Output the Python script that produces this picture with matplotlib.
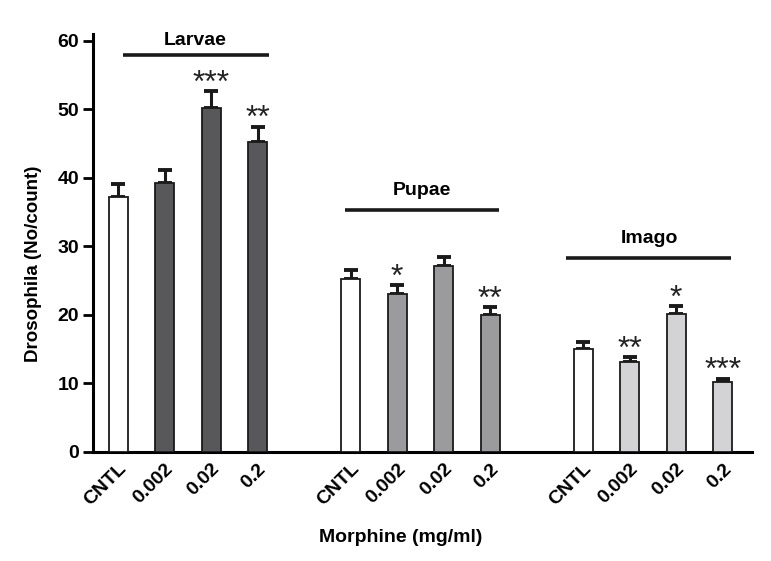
import matplotlib
matplotlib.use("Agg")
import matplotlib.pyplot as plt
import numpy as np

plt.rcParams['font.family'] = ['Liberation Sans', 'DejaVu Sans']

groups = ["Larvae", "Pupae", "Imago"]
doses = ["CNTL", "0.002", "0.02", "0.2"]
larvae = [37.2, 39.3, 50.2, 45.3]
larvae_err = [1.9, 1.9, 2.5, 2.2]
pupae = [25.2, 23.1, 27.1, 20.0]
pupae_err = [1.3, 1.2, 1.3, 1.2]
imago = [15.1, 13.1, 20.1, 10.2]
imago_err = [0.9, 0.8, 1.2, 0.5]
larvae_sig = ["", "", "***", "**"]
pupae_sig = ["", "*", "", "**"]
imago_sig = ["", "**", "*", "***"]

values = [larvae, pupae, imago]
errors = [larvae_err, pupae_err, imago_err]
sigs = [larvae_sig, pupae_sig, imago_sig]
group_colors = ["#58585a", "#9b9b9e", "#d3d3d5"]
group_line_y = [58.0, 35.3, 28.3]
group_line_x = [(0.1, 3.24), (4.87, 8.19), (9.63, 13.18)]
group_label_xy = [(1.66, 60.1), (6.53, 38.2), (11.42, 31.2)]

fig = plt.figure(figsize=(7.71, 5.61), dpi=100)
ax = fig.add_axes([93/771, 1-452/561, (752-93)/771, (452-34)/561])

width = 0.41
xticks = []
xlabels = []
for g, (vals, errs, sg) in enumerate(zip(values, errors, sigs)):
    xs = np.arange(4) + 5*g
    colors = ["white"] + [group_colors[g]]*3
    ax.bar(xs, vals, width=width, color=colors, edgecolor="#1a1a1a", linewidth=1.3, zorder=3)
    ax.errorbar(xs, vals, yerr=[np.zeros(4), errs], fmt="none", ecolor="#1a1a1a",
                elinewidth=2.2, capsize=5, capthick=2.8, zorder=2)
    for x, v, e, s in zip(xs, vals, errs, sg):
        if s:
            ax.text(x, v + e - 0.1, s, ha="center", va="baseline", fontsize=23,
                    color="#222222")
    ax.plot(group_line_x[g], [group_line_y[g]]*2, color="#1a1a1a", lw=2.6,
            clip_on=False, solid_capstyle="butt")
    ax.text(group_label_xy[g][0], group_label_xy[g][1], groups[g], ha="center", va="center",
            fontsize=14, fontweight="bold")
    xticks += list(xs)
    xlabels += doses

ax.set_xlim(-0.54, 13.63)
ax.set_ylim(0, 61)
ax.set_yticks(range(0, 61, 10))
ax.set_xticks(xticks)
ax.set_xticklabels(xlabels, rotation=45, ha="right", rotation_mode="anchor",
                   fontsize=14, fontweight="bold")
ax.tick_params(axis="x", length=0, pad=6)
ax.tick_params(axis="y", length=7, width=2, labelsize=14, pad=3)
for lbl in ax.get_yticklabels():
    lbl.set_fontweight("bold")
for sp in ["top", "right"]:
    ax.spines[sp].set_visible(False)
ax.spines["left"].set_linewidth(2.2)
ax.spines["bottom"].set_linewidth(2.2)
ax.set_ylabel("Drosophila (No/count)", fontsize=13.5, fontweight="bold")
ax.yaxis.set_label_coords(-(93-42)/659, (452-264)/418)
fig.text(401/771, 1-537/561, "Morphine (mg/ml)", ha="center", va="center",
         fontsize=14, fontweight="bold")

fig.savefig("out.png", dpi=100)
